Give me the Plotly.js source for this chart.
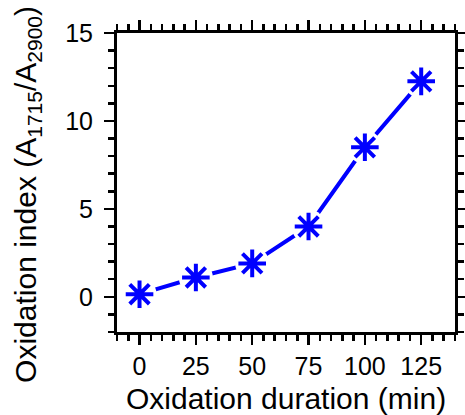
<!DOCTYPE html>
<html>
<head>
<meta charset="utf-8">
<script src="https://cdn.plot.ly/plotly-3.0.1.min.js"></script>
<style>html,body{margin:0;padding:0;background:#fff;}</style>
</head>
<body>
<div id="chart" style="width:465px;height:415px;"></div>
<script>
const durations = [0, 25, 50, 75, 100, 125];
const oxidationIndex = [0.15, 1.1, 1.9, 4.0, 8.5, 12.25];
const xTicks = [0, 25, 50, 75, 100, 125];
const yTicks = [0, 5, 10, 15];
const xTitle = "Oxidation duration (min)";
const yTitle = "Oxidation index (A<sub>1715</sub>/A<sub>2900</sub>)";

const FONT = "Liberation Sans, Arial, sans-serif";
const BLUE = "#0000ff";

const traces = [
  {x: durations, y: oxidationIndex, type: "scatter", mode: "lines",
   line: {color: BLUE, width: 4}, hoverinfo: "skip", showlegend: false},
  {x: durations, y: oxidationIndex, type: "scatter", mode: "markers",
   marker: {symbol: "circle", size: 34, color: "#ffffff", line: {width: 0}},
   hoverinfo: "skip", showlegend: false},
  {x: durations, y: oxidationIndex, type: "scatter", mode: "markers",
   marker: {symbol: "asterisk-open", size: 23, color: BLUE, line: {color: BLUE, width: 4}},
   showlegend: false}
];

const axisCommon = {
  showgrid: false, zeroline: false, showline: true, linecolor: "#000", linewidth: 3,
  mirror: "allticks", ticks: "outside", ticklen: 10, tickwidth: 2.5, tickcolor: "#000",
  tickfont: {family: FONT, size: 25, color: "#000"}
};

const layout = {
  width: 465, height: 415,
  margin: {l: 117, r: 10, t: 33, b: 83},
  paper_bgcolor: "#fff", plot_bgcolor: "#fff",
  xaxis: Object.assign({}, axisCommon, {
    range: [-10, 140], tickvals: xTicks, ticktext: xTicks.map(String), ticklabelstandoff: 0,
    minor: {dtick: 5, tick0: 0, ticks: "outside", ticklen: 6, tickwidth: 2.5, tickcolor: "#000"}
  }),
  yaxis: Object.assign({}, axisCommon, {
    range: [-2, 15], tickvals: yTicks, ticktext: yTicks.map(String), ticklabelstandoff: 6,
    minor: {dtick: 1, tick0: 0, ticks: "outside", ticklen: 6, tickwidth: 2.5, tickcolor: "#000"}
  }),
  annotations: [
    {text: xTitle, xref: "paper", yref: "paper", x: 0.5, y: -0.222,
     xanchor: "center", yanchor: "middle", showarrow: false,
     font: {family: FONT, size: 30, color: "#000"}},
    {text: yTitle, xref: "paper", yref: "paper", x: -0.265, y: 0.46, textangle: -90,
     xanchor: "center", yanchor: "middle", showarrow: false,
     font: {family: FONT, size: 30, color: "#000"}}
  ]
};

Plotly.newPlot("chart", traces, layout, {displayModeBar: false, staticPlot: true});
</script>
</body>
</html>
